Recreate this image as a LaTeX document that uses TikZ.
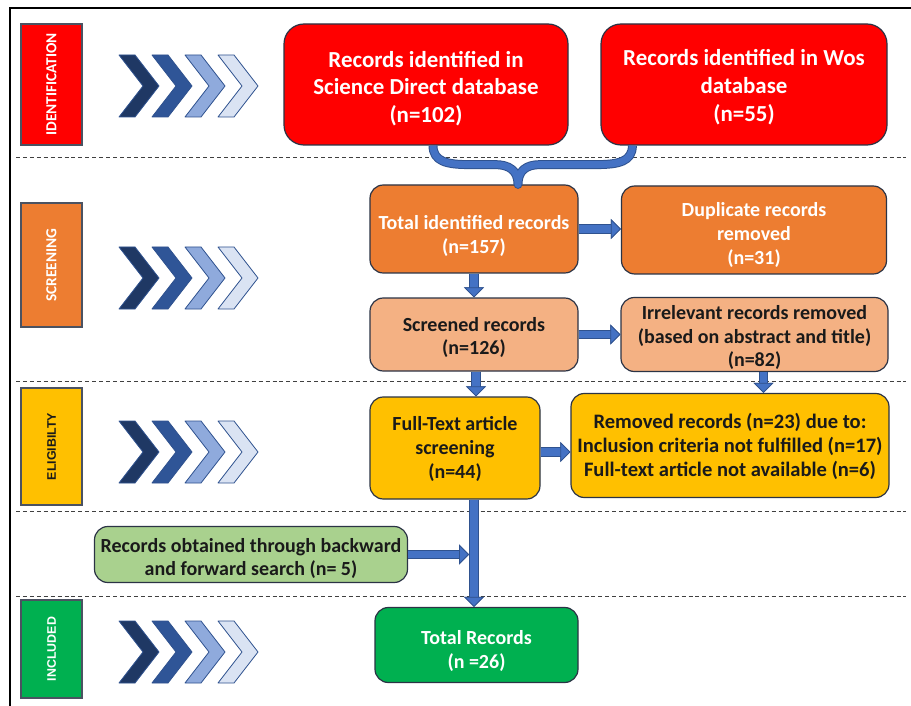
\documentclass[tikz,border=0pt]{standalone}
\usepackage{fontspec}
\setmainfont{Carlito}
\newfontfamily\arialf{Liberation Sans}
\usetikzlibrary{arrows.meta,calc}
\definecolor{cred}{HTML}{FF0000}
\definecolor{corange}{HTML}{ED7D31}
\definecolor{clorange}{HTML}{F4B183}
\definecolor{cyellow}{HTML}{FFC000}
\definecolor{clgreen}{HTML}{A9D18E}
\definecolor{cgreen}{HTML}{00B050}
\definecolor{abl}{HTML}{4472C4}
\definecolor{abd}{HTML}{2F528F}
\definecolor{edge}{HTML}{2B3345}
\definecolor{txt}{HTML}{1A1A1A}
\definecolor{ch1}{HTML}{1F3864}
\definecolor{ch2}{HTML}{2F5597}
\definecolor{ch3}{HTML}{8FAADC}
\definecolor{ch4}{HTML}{DAE3F3}
\begin{document}
\begin{tikzpicture}[x=0.75pt,y=-0.75pt,
  sz/.style 2 args={minimum width=#1*0.75pt, minimum height=#2*0.75pt},
  flow/.style={draw=edge, line width=0.9pt, rounded corners=10pt, inner sep=0pt},
  topbox/.style={flow, rounded corners=15pt},
  ftext/.style={inner sep=0pt, align=center, font=\bfseries\fontsize{15}{17.8}\selectfont},
  toptext/.style={ftext, font=\bfseries\fontsize{17.2}{20.8}\selectfont},
  stage/.style={draw=edge!85, line width=0.8pt, rotate=90, inner sep=0pt,
    font=\bfseries\fontsize{11.5}{13}\selectfont},
  stagear/.style={stage, font=\arialf\bfseries\fontsize{9.3}{11}\selectfont},
  sep/.style={draw=black!75, line width=0.6pt, dash pattern=on 3pt off 2.2pt},
  chev/.style={draw=abd, line width=0.6pt, line join=round},
  barrow/.style={draw=abl, line width=5.9pt,
    -{Triangle[width=15pt,length=7.5pt,line width=0.6pt,fill=abl,color=abd]},
    preaction={draw=abd, line width=7.4pt,
      -{Triangle[width=15pt,length=7.5pt,line width=0.6pt,fill=abd,color=abd]}}},
  brace/.style={draw=abl, line width=5.2pt, line join=round,
    preaction={draw=abd, line width=6.7pt, line join=round}}
]
\useasboundingbox (0,0) rectangle (911,706);
\fill[white] (0,0) rectangle (911,706);
% frame
\draw[line width=2pt] (10,706) -- (10,8) -- (911,8);
% separators
\foreach \yy in {157,381,511,596} \draw[sep] (16,\yy) -- (906,\yy);
% chevrons
\foreach \cy in {86,278,452,652} {
  \foreach \i/\c in {0/ch1,1/ch2,2/ch3,3/ch4} {
    \draw[chev, fill=\c] ({119+33*\i},{\cy-31}) -- ++(16,0) -- ({159+33*\i},\cy)
      -- ({135+33*\i},{\cy+31}) -- ++(-16,0) -- ({143+33*\i},\cy) -- cycle;
  }
}
% stage labels
\node[stage, fill=cred, text=white, sz={121}{61}] (st1) at (51.5,84.5) {IDENTIFICATION};
\node[stage, fill=corange, text=white, sz={124}{61}] (st2) at (51.5,265) {SCREENING};
\node[stagear, fill=cyellow, text=txt, sz={117}{61}] (st3) at (51.5,446.5) {ELIGIBILTY};
\node[stagear, fill=cgreen, text=white, sz={98}{61}] (st4) at (51.5,649) {INCLUDED};
% boxes
\node[topbox, fill=cred, sz={284}{121}] (sd) at (426,84.5) {};
\node[toptext, text=white] (sdt) at ($(sd)+(0,4)$)
  {Records identified in\\Science Direct database\\(n=102)};
\node[topbox, fill=cred, sz={286}{121}] (wos) at (744,84.5) {};
\node[toptext, text=white] (wost) at ($(wos)+(0,2.5)$)
  {Records identified in Wos\\database\\(n=55)};
\node[flow, fill=corange, sz={208}{88}] (total) at (474,229) {};
\node[ftext, text=white] (totalt) at ($(total)+(0,7)$)
  {Total identified records\\(n=157)};
\node[flow, fill=corange, sz={265}{88}] (dup) at (754,230) {};
\node[ftext, text=white] (dupt) at ($(dup)+(0,5)$)
  {Duplicate records\\removed\\(n=31)};
\node[flow, fill=clorange, sz={208}{73}] (scr) at (474,334.5) {};
\node[ftext, text=txt] (scrt) at ($(scr)+(0,3)$)
  {Screened records\\(n=126)};
\node[flow, fill=clorange, sz={267}{74}] (irr) at (754.5,334.5) {};
\node[ftext, text=txt] (irrt) at ($(irr)+(0,3)$)
  {Irrelevant records removed\\(based on abstract and title)\\(n=82)};
\node[flow, fill=cyellow, sz={170}{102}] (full) at (455,448) {};
\node[ftext, text=txt] (fullt) at ($(full)+(0,1)$)
  {Full-Text article\\screening\\(n=44)};
\node[flow, fill=cyellow, sz={318}{104}] (rem) at (730,445.5) {};
\node[ftext, text=txt, font=\bfseries\fontsize{15.4}{17.8}\selectfont] (remt) at ($(rem)+(0,1)$)
  {Removed records (n=23) due to:\\Inclusion criteria not fulfilled (n=17)\\Full-text article not available (n=6)};
\node[flow, fill=clgreen, sz={313}{56}] (srch) at (251,554.5) {};
\node[ftext, text=txt] (srcht) at ($(srch)+(0,4)$)
  {Records obtained through backward\\and forward search (n= 5)};
\node[flow, fill=cgreen, sz={203}{75}] (fin) at (476.5,645) {};
\node[ftext, text=white] (fint) at ($(fin)+(0,6)$)
  {Total Records\\(n =26)};
% brace
\coordinate (bl) at ($(sd.south)+(7,0)$);
\coordinate (bl2) at ($(bl)+(36,19)$);
\coordinate (bl3) at ($(bl)+(62,19)$);
\coordinate (br) at ($(wos.south west)+(32,0)$);
\coordinate (br2) at ($(br)+(-36,19)$);
\coordinate (br3) at ($(br)+(-92,19)$);
\coordinate (bt) at ($(total.north)+(44,0)$);
\draw[brace] (bl) .. controls +(0,16) and +(-22,0) .. (bl2) -- (bl3)
  .. controls +(14,0) and +(0,-14) .. (bt)
  .. controls +(0,-14) and +(-14,0) .. (br3) -- (br2)
  .. controls +(22,0) and +(0,16) .. (br);
% arrows
\draw[barrow] (total.east) -- (total.east -| dup.west);
\draw[barrow] (total.south) -- (scr.north);
\draw[barrow] (scr.east) -- (scr.east -| irr.west);
\coordinate (t1) at ($(scr.south)+(2,0)$);
\draw[barrow] (t1) -- (t1 |- full.north);
\coordinate (t2) at ($(irr.south)+(9,0)$);
\draw[barrow] (t2) -- (t2 |- rem.north);
\coordinate (t3) at ($(full.east)+(0,4)$);
\draw[barrow] (t3) -- (t3 -| rem.west);
\coordinate (t4) at ($(full.south)+(19,0)$);
\draw[barrow] (t4) -- (t4 |- fin.north);
\coordinate (t5) at ($(srch.east -| t4)+(-5,0)$);
\draw[barrow] (srch.east) -- (t5);
\end{tikzpicture}
\end{document}
